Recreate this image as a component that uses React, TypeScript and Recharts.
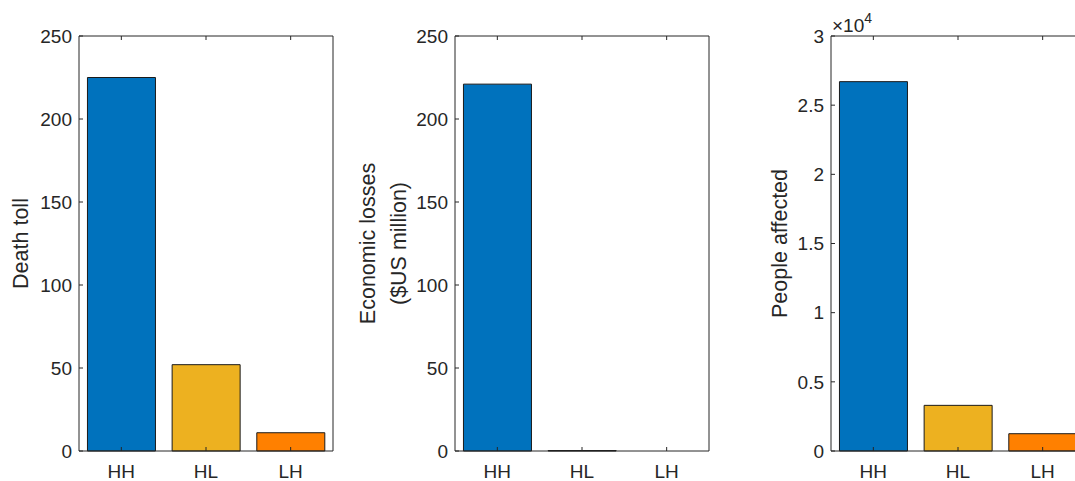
import { BarChart, Bar, XAxis, YAxis, Cell } from 'recharts';

const categories = ['HH', 'HL', 'LH'];
const deathToll = [225, 52, 11];
const economicLosses = [221, 0.3, 0];
const peopleAffected = [26700, 3300, 1250];

const barColors = ['#0072BD', '#EDB120', '#FF8000'];
const lossTicks = [0, 50, 100, 150, 200, 250];
const peopleTicks = [0, 5000, 10000, 15000, 20000, 25000, 30000];

const AXIS = '#262626';
const FONT = '"Liberation Sans", Arial, Helvetica, sans-serif';

type TitleProps = {
    viewBox?: any;
    lines: string[];
    xs: number[];
    exponent?: boolean;
};

// rotated y axis title, optionally with the x10^4 multiplier above the plot
function AxisTitle({ viewBox, lines, xs, exponent }: TitleProps) {
    const cy = viewBox.y + viewBox.height / 2;
    return (
        <g>
            {lines.map((line, i) => (
                <text
                    key={line}
                    x={xs[i]}
                    y={cy}
                    transform={`rotate(-90, ${xs[i]}, ${cy})`}
                    textAnchor='middle'
                    dominantBaseline='central'
                    fontSize={21.5}
                    fill={AXIS}
                >
                    {line}
                </text>
            ))}
            {exponent && (
                <text x={viewBox.x + viewBox.width + 1} y={viewBox.y - 4} fontSize={19} fill={AXIS}>
                    ×10
                    <tspan dy={-9} fontSize={14}>4</tspan>
                </text>
            )}
        </g>
    );
}

type PanelProps = {
    left: number;
    values: number[];
    ticks: number[];
    axisWidth: number;
    titleLines: string[];
    titleXs: number[];
    exponent?: boolean;
    tickFormat?: (v: number) => string;
};

function Panel({ left, values, ticks, axisWidth, titleLines, titleXs, exponent, tickFormat }: PanelProps) {
    const data = categories.map((c, i) => ({ cat: c, value: values[i] }));
    const domain = [ticks[0], ticks[ticks.length - 1]];
    const tickStyle = { fill: AXIS, fontSize: 19 };
    return (
        <div style={{ position: 'absolute', left, top: 0 }}>
            <BarChart
                width={axisWidth + 254 + 6}
                height={481}
                data={data}
                margin={{ top: 35, right: 5, bottom: 0, left: 0 }}
                barCategoryGap='10%'
            >
                <XAxis
                    dataKey='cat'
                    height={30}
                    stroke={AXIS}
                    fontSize={19}
                    tickSize={-4}
                    tickMargin={18}
                    tick={tickStyle}
                />
                <XAxis
                    xAxisId='top'
                    dataKey='cat'
                    orientation='top'
                    height={1}
                    stroke={AXIS}
                    tickSize={-4}
                    tickFormatter={() => ''}
                />
                <YAxis
                    domain={domain}
                    ticks={ticks}
                    interval={0}
                    width={axisWidth}
                    stroke={AXIS}
                    fontSize={19}
                    tickSize={-4}
                    tickMargin={11}
                    tick={tickStyle}
                    tickFormatter={tickFormat}
                    label={{
                        content: (p: any) => (
                            <AxisTitle viewBox={{ ...p.viewBox, x: axisWidth, width: 0 }} lines={titleLines} xs={titleXs} exponent={exponent} />
                        )
                    }}
                />
                <YAxis
                    yAxisId='right'
                    orientation='right'
                    domain={domain}
                    ticks={ticks}
                    interval={0}
                    width={1}
                    stroke={AXIS}
                    tickSize={-4}
                    tickFormatter={() => ''}
                />
                <Bar dataKey='value' stroke='#1a1a1a' strokeWidth={1} isAnimationActive={false}>
                    {data.map((d, i) => (
                        <Cell key={d.cat} fill={barColors[i]} />
                    ))}
                </Bar>
            </BarChart>
        </div>
    );
}

export default function App() {
    return (
        <div
            style={{
                position: 'absolute',
                left: 0,
                top: 0,
                width: 1075,
                height: 481,
                overflow: 'hidden',
                background: '#fff',
                fontFamily: FONT
            }}
        >
            <Panel left={0} values={deathToll} ticks={lossTicks} axisWidth={79} titleLines={['Death toll']} titleXs={[21]} />
            <Panel
                left={340}
                values={economicLosses}
                ticks={lossTicks}
                axisWidth={115}
                titleLines={['Economic losses', '($US million)']}
                titleXs={[27.5, 59]}
            />
            <Panel
                left={715}
                values={peopleAffected}
                ticks={peopleTicks}
                axisWidth={116}
                titleLines={['People affected']}
                titleXs={[65]}
                exponent
                tickFormat={(v: number) => String(v / 10000)}
            />
        </div>
    );
}
